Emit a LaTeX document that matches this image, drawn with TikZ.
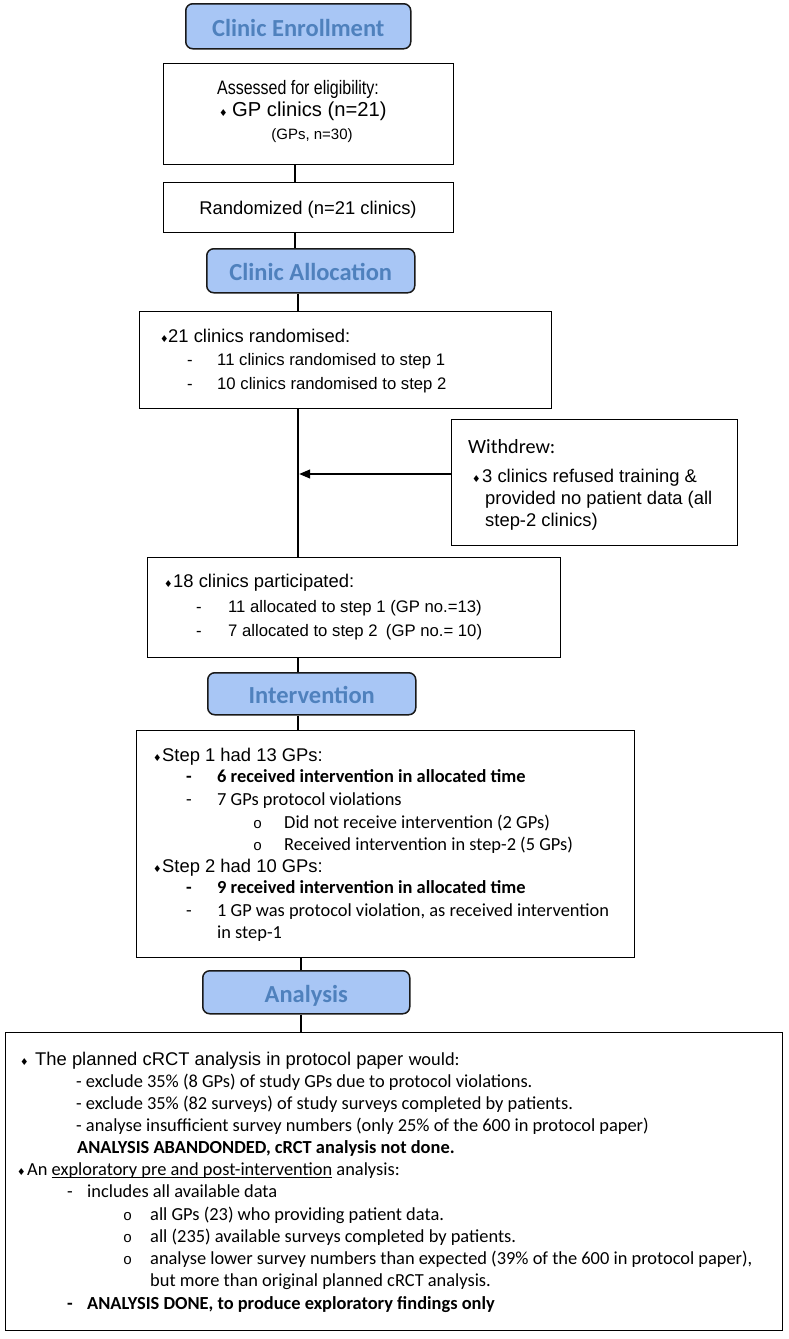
\documentclass[tikz,border=0pt]{standalone}
\usepackage{fontspec}
\setmainfont{Liberation Sans}
\newfontfamily\carl{Carlito}
\newfontfamily\djv{DejaVu Sans}
\newfontfamily\mono{Liberation Mono}
\usetikzlibrary{arrows.meta}
\definecolor{hdrfill}{RGB}{168,198,245}
\definecolor{hdrtext}{RGB}{79,129,189}
\newcommand\fA{\fontsize{18.4}{22}\selectfont}
\newcommand\fB{\fontsize{16.7}{20}\selectfont}
\newcommand\fC{\fontsize{20.2}{24}\selectfont}
\newcommand\dia{{\djv\fontsize{9.5}{9.5}\selectfont ♦}}
\newcommand\obul{{\mono\fontsize{15}{18}\selectfont o}}
\newcommand\ulx[1]{\setbox0\hbox{#1}\rlap{\rule[-2.6pt]{\wd0}{1.1pt}}\box0{}}
\tikzset{
  box/.style={draw=black, line width=1.4pt, anchor=north west, inner sep=0pt},
  hdr/.style={draw=black!90, line width=1.5pt, rounded corners=7pt, fill=hdrfill,
    text=hdrtext, font=\carl\bfseries\fontsize{24.5}{28}\selectfont,
    anchor=north west, inner sep=0pt, text height=20pt, text depth=0pt},
  txt/.style={anchor=base west, inner sep=0pt},
  ctxt/.style={anchor=base, inner sep=0pt},
  link/.style={line width=1.3pt}
}
\begin{document}
\begin{tikzpicture}[x=1pt,y=1pt]
\useasboundingbox (0,0) rectangle (788,-1339);
% headers and boxes
\node[hdr, minimum width=225pt, minimum height=45pt] (h1) at (185,-3) {Clinic Enrollment};
\node[box, minimum width=290pt, minimum height=101pt] (b1) at (163,-63) {};
\node[box, minimum width=290pt, minimum height=50pt] (b2) at (163,-182) {};
\node[hdr, minimum width=208pt, minimum height=44pt] (h2) at (206,-248) {Clinic Allocation};
\node[box, minimum width=412pt, minimum height=97pt] (b3) at (139,-311) {};
\node[box, minimum width=286pt, minimum height=126pt] (bw) at (451,-419) {};
\node[box, minimum width=413pt, minimum height=100pt] (b4) at (147,-557) {};
\node[hdr, minimum width=208pt, minimum height=42pt] (h3) at (207,-672) {Intervention};
\node[box, minimum width=498pt, minimum height=227pt] (b5) at (136,-730) {};
\node[hdr, minimum width=207pt, minimum height=43pt] (h4) at (202,-970) {Analysis};
\node[box, minimum width=777pt, minimum height=298pt] (b6) at (5,-1032) {};
% connectors
\coordinate (xa) at (295,0);
\coordinate (xb) at (298,0);
\coordinate (xc) at (301,0);
\coordinate (m) at (299.2,-474);
\draw[link] (b1.south -| xa) -- (b2.north -| xa);
\draw[link] (b2.south -| xa) -- (h2.north -| xa);
\draw[link] (h2.south -| xb) -- (b3.north -| xb);
\draw[link] (b3.south -| xb) -- (b4.north -| xb);
\draw[link, -{Triangle[length=11pt,width=9pt]}] (bw.west |- m) -- (m);
\draw[link] (b4.south -| xb) -- (h3.north -| xb);
\draw[link] (h3.south -| xb) -- (b5.north -| xb);
\draw[link] (b5.south -| xc) -- (h4.north -| xc);
\draw[link] (h4.south -| xc) -- (b6.north -| xc);
% box 1
\node[ctxt] (t1a) at (298,-94) {\fontsize{19.5}{23}\selectfont\scalebox{0.82}[1]{Assessed for eligibility:}};
\node[txt] (t1b) at (219,-116) {\fC\rlap{\dia}\hspace*{13pt}GP clinics (n=21)};
\node[ctxt] (t1c) at (312,-139) {\fontsize{15}{18}\selectfont (GPs, n=30)};
% box 2
\node[ctxt] (t2) at (308,-214) {\fA Randomized (n=21 clinics)};
% box 3
\node[txt] (t3a) at (160,-342) {\fA\rlap{\dia}\hspace*{8pt}21 clinics randomised:};
\node[txt] (t3b) at (187,-365) {\fB\rlap{-}\hspace*{30pt}11 clinics randomised to step 1};
\node[txt] (t3c) at (187,-389) {\fB\rlap{-}\hspace*{30pt}10 clinics randomised to step 2};
% withdrew
\node[txt] (tw1) at (468,-453) {\fC\carl Withdrew:};
\node[txt] (tw2) at (472,-482) {\fA\rlap{\dia}\hspace*{10pt}3 clinics refused training \&};
\node[txt] (tw3) at (485,-504) {\fA provided no patient data (all};
\node[txt] (tw4) at (485,-526) {\fA step-2 clinics)};
% box 4
\node[txt] (t4a) at (164,-587) {\fA\rlap{\dia}\hspace*{9pt}18 clinics participated:};
\node[txt] (t4b) at (196,-612) {\fB\rlap{-}\hspace*{32pt}11 allocated to step 1 (GP no.=13)};
\node[txt] (t4c) at (196,-636) {\fB\rlap{-}\hspace*{32pt}7 allocated to step 2\hspace{0.5em}(GP no.= 10)};
% box 5
\node[txt] (t5a) at (153,-761) {\fA\rlap{\dia}\hspace*{9pt}Step 1 had 13 GPs:};
\node[txt] (t5b) at (186,-782) {\fA\carl\bfseries\rlap{-}\hspace*{31pt}6 received intervention in allocated time};
\node[txt] (t5c) at (186,-805) {\fA\carl\rlap{-}\hspace*{31pt}7 GPs protocol violations};
\node[txt] (t5d) at (253,-828) {\fA\rlap{\obul}\hspace*{31pt}{\carl Did not receive intervention (2 GPs)}};
\node[txt] (t5e) at (253,-850) {\fA\rlap{\obul}\hspace*{31pt}{\carl Received intervention in step-2 (5 GPs)}};
\node[txt] (t5f) at (153,-872) {\fA\rlap{\dia}\hspace*{9pt}Step 2 had 10 GPs:};
\node[txt] (t5g) at (186,-893) {\fA\carl\bfseries\rlap{-}\hspace*{31pt}9 received intervention in allocated time};
\node[txt] (t5h) at (186,-916) {\fA\carl\rlap{-}\hspace*{31pt}1 GP was protocol violation, as received intervention};
\node[txt] (t5i) at (217,-938) {\fA\carl in step-1};
% box 6
\node[txt] (t6a) at (20,-1065) {\fA\rlap{\dia}\hspace*{15pt}The planned cRCT analysis in protocol paper {\carl would:}};
\node[txt] (t6b) at (76,-1087) {\fA\carl - exclude 35\% (8 GPs) of study GPs due to protocol violations.};
\node[txt] (t6c) at (76,-1109) {\fA\carl - exclude 35\% (82 surveys) of study surveys completed by patients.};
\node[txt] (t6d) at (76,-1131) {\fA\carl - analyse insufficient survey numbers (only 25\% of the 600 in protocol paper)};
\node[txt] (t6e) at (77,-1153) {\fA\carl\bfseries ANALYSIS ABANDONDED, cRCT analysis not done.};
\node[txt] (t6f) at (17,-1175) {\fA\rlap{\dia}\hspace*{10pt}{\carl An \ulx{exploratory pre and post-intervention} analysis:}};
\node[txt] (t6g) at (67,-1197) {\fA\carl\rlap{-}\hspace*{20pt}includes all available data};
\node[txt] (t6h) at (123,-1220) {\fA\rlap{\obul}\hspace*{27pt}{\carl all GPs (23) who providing patient data.}};
\node[txt] (t6i) at (123,-1242) {\fA\rlap{\obul}\hspace*{27pt}{\carl all (235) available surveys completed by patients.}};
\node[txt] (t6j) at (123,-1264) {\fA\rlap{\obul}\hspace*{27pt}{\carl analyse lower survey numbers than expected (39\% of the 600 in protocol paper),}};
\node[txt] (t6k) at (150,-1286) {\fA\carl but more than original planned cRCT analysis.};
\node[txt] (t6l) at (67,-1309) {\fA\carl\bfseries\rlap{-}\hspace*{20pt}ANALYSIS DONE, to produce exploratory findings only};
\end{tikzpicture}
\end{document}
